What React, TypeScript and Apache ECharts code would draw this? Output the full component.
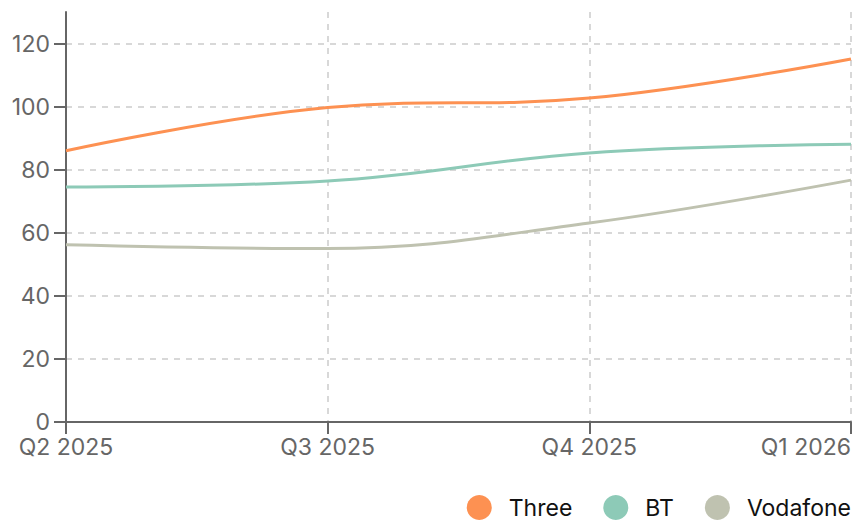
import React, { useEffect, useRef } from "react";
import * as echarts from "echarts";

const categories = ["Q2 2025", "Q3 2025", "Q4 2025", "Q1 2026"];
const three = [86, 99.7, 102.7, 115.1];
const bt = [74.5, 76.4, 85.3, 88.1];
const vodafone = [56.2, 55, 63.1, 76.7];
const yTicks = [0, 20, 40, 60, 80, 100, 120];

export default function App() {
  const ref = useRef<HTMLDivElement>(null);
  useEffect(() => {
    const chart = echarts.init(ref.current!, undefined, { renderer: "svg" });
    const font = "Inter, 'Noto Sans', sans-serif";
    const mk = (name: string, data: number[], color: string) => ({
      name,
      type: "line",
      data,
      smooth: 0.4,
      symbol: "none",
      lineStyle: { width: 3, color },
      itemStyle: { color },
    });
    chart.setOption({
      animation: false,
      textStyle: { fontFamily: font },
      grid: { left: 66, right: 17, top: 12, bottom: 98, containLabel: false },
      xAxis: {
        type: "category",
        data: categories,
        boundaryGap: false,
        axisLine: { lineStyle: { color: "#666", width: 2 } },
        axisTick: { show: true, length: 12, lineStyle: { color: "#666", width: 2 } },
        axisLabel: {
          color: "#666",
          fontSize: 23,
          lineHeight: 20,
          fontFamily: font,
          margin: 15,
          alignMinLabel: "center",
          alignMaxLabel: "right",
        },
        splitLine: { show: true, lineStyle: { color: "#ccc", type: [6, 6], width: 1.5 } },
      },
      yAxis: {
        type: "value",
        min: 0,
        max: 130,
        interval: 20,
        axisLine: { show: true, lineStyle: { color: "#666", width: 2 } },
        axisTick: { show: true, length: 12, customValues: yTicks, lineStyle: { color: "#666", width: 2 } },
        axisLabel: { color: "#666", fontSize: 23, lineHeight: 18, fontFamily: font, margin: 16, customValues: yTicks },
        splitLine: { show: true, lineStyle: { color: "#ccc", type: [6, 6], width: 1.5 } },
      },
      legend: {
        right: 17,
        bottom: 0,
        padding: 0,
        icon: "circle",
        itemWidth: 25,
        itemHeight: 25,
        itemGap: 31,
        textStyle: { color: "#111", fontSize: 23, fontFamily: font, padding: [0, 0, 0, 12] },
        data: ["Three", "BT", "Vodafone"],
      },
      series: [
        mk("Three", three, "#fd9152"),
        mk("BT", bt, "#8dcab7"),
        mk("Vodafone", vodafone, "#bfc2b0"),
      ],
    });
    return () => chart.dispose();
  }, []);
  return (
    <div
      ref={ref}
      style={{ position: "absolute", left: 0, top: 0, width: 868, height: 520 }}
    />
  );
}
